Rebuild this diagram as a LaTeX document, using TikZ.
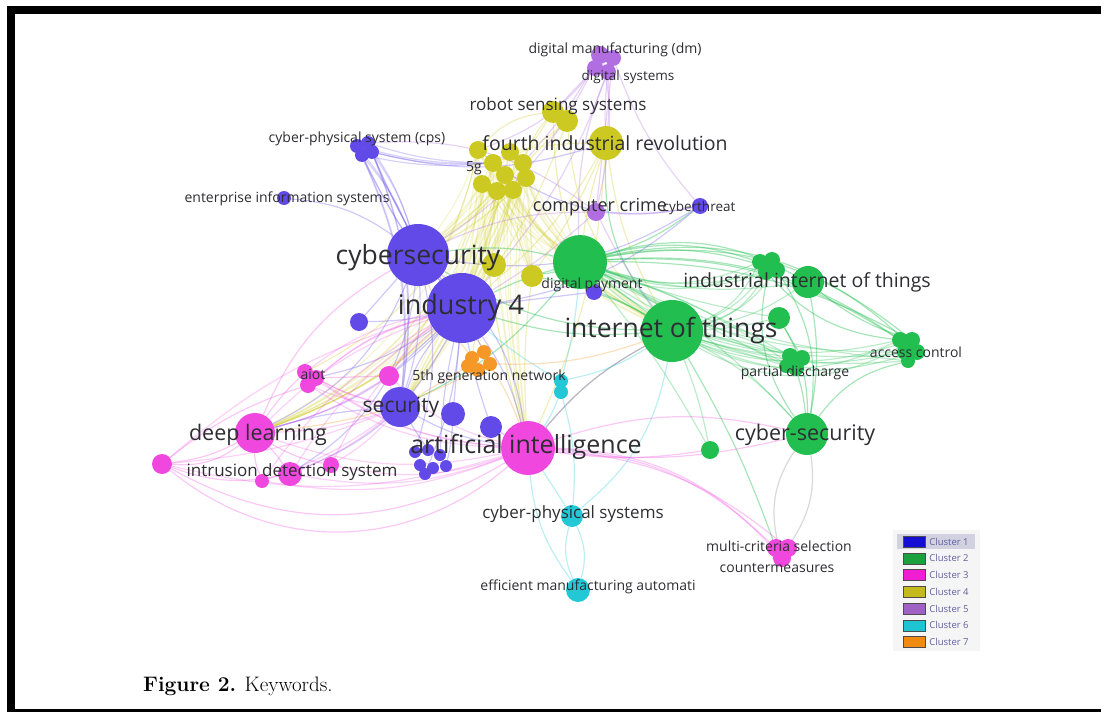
\documentclass[tikz,border=0pt]{standalone}
\usepackage{fontspec}
\newfontfamily\vos{Open Sans}
\usetikzlibrary{positioning}
\pgfdeclarelayer{bg}
\pgfsetlayers{bg,main}
\definecolor{c1}{RGB}{98,74,232}
\definecolor{c2}{RGB}{34,190,80}
\definecolor{c3}{RGB}{240,72,222}
\definecolor{c4}{RGB}{204,202,34}
\definecolor{c5}{RGB}{176,110,224}
\definecolor{c6}{RGB}{34,200,214}
\definecolor{c7}{RGB}{246,152,40}
\definecolor{labc}{RGB}{45,45,50}
\definecolor{k1}{RGB}{20,14,210}
\definecolor{k2}{RGB}{26,160,60}
\definecolor{k3}{RGB}{240,30,210}
\definecolor{k4}{RGB}{196,186,30}
\definecolor{k5}{RGB}{160,96,196}
\definecolor{k6}{RGB}{30,196,210}
\definecolor{k7}{RGB}{240,138,16}
\begin{document}
\begin{tikzpicture}[x=1pt,y=-1pt,
    bub/.style={circle,fill=#1,inner sep=0pt},
    lab/.style={font=\vos\fontsize{#1}{#1}\selectfont,text=labc,inner sep=0pt},
    ln/.style={draw=#1,line width=1.2pt,opacity=0.3},
    swatch/.style={draw=black!70,fill=#1,minimum width=22pt,minimum height=11pt,inner sep=0pt},
    legtxt/.style={font=\vos\fontsize{9.5}{9.5}\selectfont,text=blue!25!gray,inner sep=0pt}]
    \useasboundingbox (0,0) rectangle (1101,712);

    % cluster 1
    \foreach \n/\x/\y/\d in {cysec/418/255/62,ind/462/308/70,eis/284/198/14,cthr/700/206/16,
        dpay/594/292/16,b1/359/322/18,sec/400/407/40,b2/453/414/24,b3/491/427/22,
        cpsa/357/146/14,cpsb/368/143/14,cpsc/362/155/14,cpsd/372/152/14,
        bxa/415/452/12,bxb/428/450/12,bxc/440/455/12,bxd/420/465/12,bxe/433/468/12,bxf/446/466/12,bxg/425/474/12}
        \node[bub=c1,minimum size=\d pt] (\n) at (\x,\y) {};
    % cluster 2
    \foreach \n/\x/\y/\d in {ga/580/262/54,iot/672/331/62,iiot/808/282/32,gb/779/318/22,
        cs2/807/434/42,gc/710/450/18,
        iia/760/262/16,iib/772/260/16,iic/766/272/16,iid/777/270/16,
        pda/790/356/16,pdb/802/358/16,pdc/796/368/16,pdd/786/366/14,
        aca/900/340/16,acb/912/340/16,acc/905/352/16,acd/917/352/16,ace/908/361/14}
        \node[bub=c2,minimum size=\d pt] (\n) at (\x,\y) {};
    % cluster 3
    \foreach \n/\x/\y/\d in {ai/528/448/54,dl/255/433/40,pa/389/376/20,pb/162/464/20,
        ids/290/474/24,pc/262/481/14,pd/331/465/16,
        aia/305/372/16,aib/316/378/16,aic/308/385/16,
        mca/776/548/18,mcb/788/548/18,mcc/782/558/18}
        \node[bub=c3,minimum size=\d pt] (\n) at (\x,\y) {};
    % cluster 4
    \foreach \n/\x/\y/\d in {ya/478/150/18,yb/493/163/18,yc/510/152/18,yd/523/163/18,
        ye/505/175/18,yf/526/178/18,yg/482/184/18,yh/497/191/18,yi/513/190/18,
        rsa/553/112/22,rsb/567/121/22,fir/606/143/34,yj/494/265/24,yk/532/276/22}
        \node[bub=c4,minimum size=\d pt] (\n) at (\x,\y) {};
    % cluster 5
    \foreach \n/\x/\y/\d in {dma/600/55/18,dmb/613/58/16,dmc/595/68/16,dmd/608/72/16,cc/596/212/18}
        \node[bub=c5,minimum size=\d pt] (\n) at (\x,\y) {};
    % cluster 6
    \foreach \n/\x/\y/\d in {cya/561/381/14,cyb/561/392/14,cyps/572/516/22,ema/578/590/24}
        \node[bub=c6,minimum size=\d pt] (\n) at (\x,\y) {};
    % cluster 7
    \foreach \n/\x/\y/\d in {fga/472/358/14,fgb/484/352/14,fgc/490/364/14,fgd/478/370/14,fge/468/366/14}
        \node[bub=c7,minimum size=\d pt] (\n) at (\x,\y) {};

    \begin{pgfonlayer}{bg}
    % links, coloured by cluster
    \foreach \a in {ya,yb,yc,yd,ye,yf,yg,yh,yi}
        \foreach \b/\c in {cysec/8,ind/4,ga/-12,ai/-6,sec/10,dl/24,iot/-14,yk/3}
            \draw[ln=c4,opacity=0.2] (\a) to[bend left=\c] (\b);
    \foreach \a/\b/\c in {yd/rsa/10,yb/rsb/-10,ya/rsa/20,yc/fir/5,yi/yj/0,ya/aia/25,yb/pa/10,
        fir/ind/10,fir/ga/-5,rsb/ind/-15,rsa/cysec/10,fir/ai/10,rsb/dl/25,fir/yk/5,
        rsa/ga/-8,yh/fga/0,rsb/iot/-20,fir/iot/-10,yj/dl/15,yk/ai/-5}
        \draw[ln=c4] (\a) to[bend left=\c] (\b);
    \foreach \a in {ga,iot}
        \foreach \b/\c in {iia/-20,iib/-25,iic/-15,iid/-18,iiot/-12,gb/-5,pda/5,pdb/-5,pdc/8,
            pdd/0,aca/-25,acb/-30,acc/-15,acd/-20,ace/-10,cs2/10,gc/5}
            \draw[ln=c2,opacity=0.3] (\a) to[bend left=\c] (\b);
    \foreach \a/\b/\c in {ga/iot/0,iot/ind/10,iot/cysec/15,iot/fir/20,ga/ind/-5,iic/aca/-20,
        iiot/acb/-10,pdc/cs2/5,ace/cs2/-20,iiot/cs2/10,gb/pdb/0,cs2/iid/-20,iot/ai/-10,
        ga/cysec/-10,ga/cthr/-10,iot/mca/5,acd/ga/-20,iib/cs2/-25,gb/cs2/15,ga/yk/5,
        iot/yk/-10,ga/sec/12,iot/dpay/-5,ga/acb/24,ga/iiot/22,ga/aca/18,acb/ga/-14,
        iia/ga/-16,ga/acd/28,ga/iid/14}
        \draw[ln=c2,opacity=0.4] (\a) to[bend left=\c] (\b);
    \foreach \a in {cpsa,cpsb,cpsc,cpsd}
        \foreach \b/\c in {cysec/8,ind/-6,yb/-8,sec/15}
            \draw[ln=c1,opacity=0.25] (\a) to[bend left=\c] (\b);
    \foreach \a/\b/\c in {eis/cysec/15,cysec/sec/10,ind/sec/-10,ind/b2/0,ind/ai/10,ind/dl/15,
        ind/aib/10,cysec/dl/20,ind/b1/5,ind/pa/0,cysec/b1/0,sec/bxb/0,ind/bxc/-5,cysec/ai/20,
        cthr/cysec/20,cthr/ind/15,dpay/ind/0,sec/ai/-10,ind/fgb/0,cysec/ids/25,ind/ids/20,
        cpsd/fir/-15,cthr/ya/25,b2/bxf/5,b3/ai/0,ind/bxg/8,cysec/bxa/14,sec/dl/-6,ind/b3/-4}
        \draw[ln=c1] (\a) to[bend left=\c] (\b);
    \foreach \a/\b/\c in {dma/fir/10,dmb/cc/0,dmc/ya/15,dmd/ind/10,dma/cysec/15,cc/ind/5,
        cc/iot/-5,dmb/cthr/-10,cc/cpsb/-20,dmc/rsa/0,dmd/cc/8,dmb/ga/-12,dma/yd/6,dmd/fir/-4,
        cc/cthr/-8,cc/cysec/-12}
        \draw[ln=c5] (\a) to[bend left=\c] (\b);
    \foreach \a in {dl,pb,ids,pc,pd,aia,aib,aic,pa}
        \foreach \b/\c in {ai/-15,ind/12,sec/-8}
            \draw[ln=c3,opacity=0.25] (\a) to[bend left=\c] (\b);
    \foreach \a/\b/\c in {dl/aia/5,dl/pb/10,dl/ids/5,ai/mca/20,ai/mcb/17,ai/mcc/23,ai/cs2/15,
        pb/ai/-30,pb/ids/-15,aib/pa/0,dl/pd/-10,ai/cs2/-10,ai/iot/10,pb/aic/10,dl/cysec/18,
        pb/dl/-20,pc/dl/10,dl/pa/-8,ai/gc/-8,pb/ai/-40}
        \draw[ln=c3] (\a) to[bend left=\c] (\b);
    \foreach \a/\b/\c in {mcb/cs2/-20,mcc/cs2/25}
        \draw[ln=gray] (\a) to[bend left=\c] (\b);
    \foreach \a/\b/\c in {cyb/cyps/10,cyps/ema/20,cyps/ema/-20,ai/cyps/0,cya/iot/-10,
        cya/ind/5,cyps/iot/-20,ema/ai/15,cya/ga/-5,cyb/ai/6}
        \draw[ln=c6] (\a) to[bend left=\c] (\b);
    \foreach \a/\b/\c in {fgb/ind/0,fgc/ai/5,fge/sec/0,fgc/iot/-10,fga/cysec/8,fgd/dl/10}
        \draw[ln=c7] (\a) to[bend left=\c] (\b);
    \end{pgfonlayer}

    % labels
    \node[lab=14] (tdm) at (615,50) {digital manufacturing (dm)};
    \node[lab=13.5] (tds) at (628,77) {digital systems};
    \node[lab=17] (trss) at (558,106) {robot sensing systems};
    \node[lab=19.5] (tfir) at (605,143) {fourth industrial revolution};
    \node[lab=14] (tcps) at (357,139) {cyber-physical system (cps)};
    \node[lab=14] (t5g) at (474,168) {5g};
    \node[lab=14] (teis) at (287,199) {enterprise information systems};
    \node[lab=18] (tcc) at (600,207) {computer crime};
    \node[lab=13.5] (tcthr) at (699,208) {cyberthreat};
    \node[lab=26.5] (tcysec) at (418,258) {cybersecurity};
    \node[lab=14] (tdpay) at (592,285) {digital payment};
    \node[lab=19.5] (tiiot) at (807,282) {industrial internet of things};
    \node[lab=27] (tind) at (461,307) {industry 4};
    \node[lab=26.5] (tiot) at (671,331) {internet of things};
    \node[lab=14] (tac) at (916,352) {access control};
    \node[lab=14] (taiot) at (313,374) {aiot};
    \node[lab=14] (tfgn) at (489,377) {5th generation network};
    \node[lab=14] (tpd) at (795,373) {partial discharge};
    \node[lab=21] (tsec) at (401,407) {security};
    \node[lab=21.5] (tdl) at (258,435) {deep learning};
    \node[lab=25] (tai) at (526,447) {artificial intelligence};
    \node[lab=21.5] (tcs2) at (805,435) {cyber-security};
    \node[lab=17] (tids) at (292,472) {intrusion detection system};
    \node[lab=17] (tcyps) at (573,514) {cyber-physical systems};
    \node[lab=14] (tmcs) at (779,546) {multi-criteria selection};
    \node[lab=14] (tcm) at (777,568) {countermeasures};
    \node[lab=14] (tema) at (588,587) {efficient manufacturing automati};

    % legend
    \begin{scope}
    \clip (890,528) rectangle (982,650);
    \fill[gray!8] (893,530) rectangle (980,652);
    \fill[blue!20!gray!30] (897,534) rectangle (975,549);
    \foreach \i/\col in {1/k1,2/k2,3/k3,4/k4,5/k5,6/k6,7/k7} {
        \node[swatch=\col] (sw\i) at (914,{541.7+16.7*(\i-1)}) {};
        \node[legtxt,right=4pt of sw\i] (lg\i) {Cluster \i};
    }
    \end{scope}

    % caption and frame
    \node[font=\fontsize{21}{21}\selectfont,anchor=west,inner sep=0pt] (cap) at (143,686) {\textbf{Figure 2.} Keywords.};
    \fill (7,6) rectangle (1101,14);
    \fill (7,6) rectangle (15,712);
    \fill (7,709) rectangle (1101,712);
\end{tikzpicture}
\end{document}
